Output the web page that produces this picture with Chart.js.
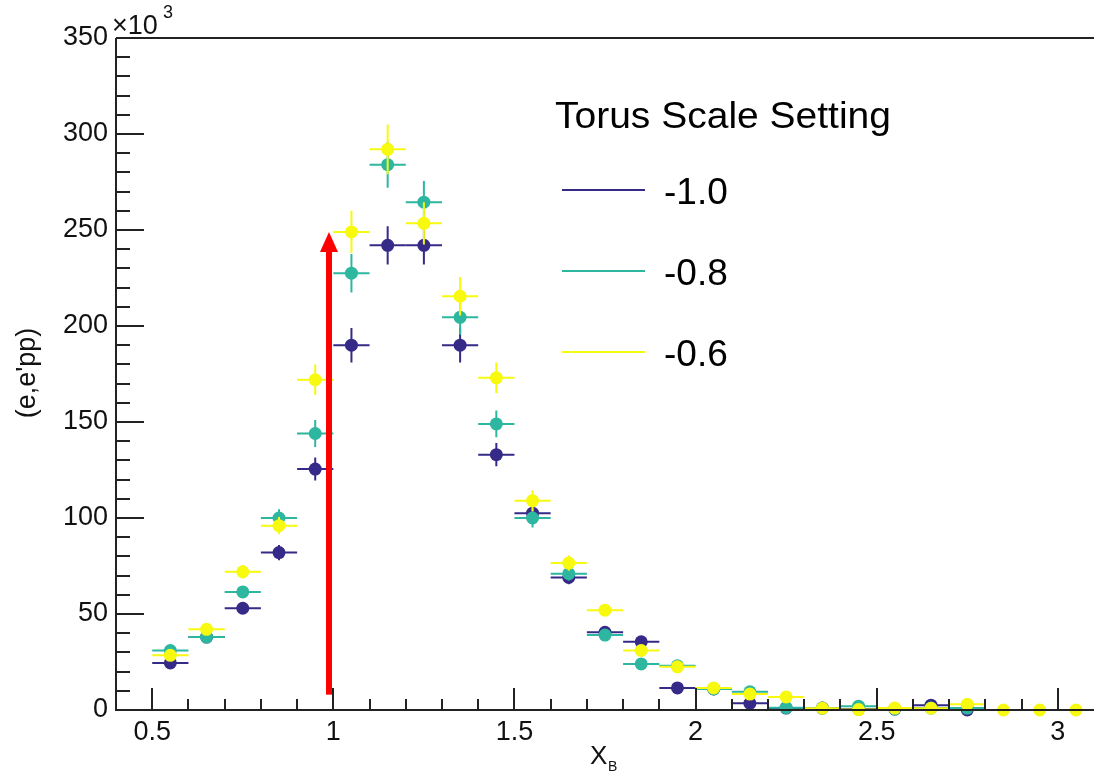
<!DOCTYPE html>
<html>
<head>
<meta charset="utf-8">
<title>(e,e'pp) vs X_B</title>
<script src="https://cdn.jsdelivr.net/npm/chart.js@4/dist/chart.umd.min.js"></script>
<style>
  html, body { margin: 0; padding: 0; background: #fff; }
  #wrap { width: 1094px; height: 773px; }
</style>
</head>
<body>
<div id="wrap"><canvas id="myChart" width="1094" height="773"></canvas></div>
<script>
// bin centres of X_B (bin width 0.1)
const binCenters = [0.55, 0.65, 0.75, 0.85, 0.95, 1.05, 1.15, 1.25, 1.35, 1.45, 1.55, 1.65, 1.75,
                    1.85, 1.95, 2.05, 2.15, 2.25, 2.35, 2.45, 2.55, 2.65, 2.75, 2.85, 2.95, 3.05];
const binHalfWidth = 0.05;

// counts in units of 10^3, one array per torus scale setting
const torus10 = [24.5, 38, 53, 82, 125.5, 190, 242, 242, 190, 133, 102.5, 69, 40.5,
                 35.5, 11.5, 11, 3.5, 1, 1, 0.5, 0.5, 2.5, 0];
const torus10Err = [1.5, 2, 3, 4, 6, 9, 10, 10, 9, 6, 5, 3.5, 2,
                    2, 1, 1, 0.5, 0.5, 0.5, 0.5, 0.5, 0.5, 0.5];

const torus08 = [31, 38, 61.5, 100, 144, 227.5, 284, 264.5, 204.5, 149, 100, 71, 39,
                 24, 23, 11, 9.5, 1.2, 1, 2, 0.5, 1, 1];
const torus08Err = [1.5, 2, 3, 4.5, 7, 10, 12, 11, 9, 7, 5, 3.5, 2,
                    1.5, 1.5, 1, 1, 0.5, 0.5, 0.5, 0.5, 0.5, 0.5];

const torus06 = [28.5, 42, 72, 96, 172, 249, 292, 253.5, 215.5, 173, 109, 76.5, 52,
                 31, 22.5, 11.5, 8.3, 6.8, 0.9, 0.2, 1, 0.9, 3, 0, 0, 0];
const torus06Err = [1.5, 2, 3.5, 4.5, 8, 11, 13, 11, 10, 8, 5.5, 4, 3,
                    2, 1.5, 1, 1, 1, 0.5, 0.5, 0.5, 0.5, 1, 0.3, 0.3, 0.3];

const seriesLabels = ['-1.0', '-0.8', '-0.6'];
const xTickLabels = [0.5, 1, 1.5, 2, 2.5, 3];
const yTickLabels = [0, 50, 100, 150, 200, 250, 300, 350];

// red marker arrow at X_B ~ 1
const arrowMark = { x: 0.988, from: 8, to: 249 };

const colors = ['#352a87', '#2db6a0', '#f7f90e'];
const FONT = '"Liberation Sans", Arial, Helvetica, sans-serif';

function toPoints(vals, errs) {
    return vals.map((v, i) => ({ x: binCenters[i], y: v, err: errs[i] }));
}

// text squeezed/stretched horizontally to a given width
function fitText(ctx, text, x, y, width) {
    const w = ctx.measureText(text).width;
    ctx.save();
    ctx.translate(x, y);
    ctx.scale(width / w, 1);
    ctx.fillText(text, 0, 0);
    ctx.restore();
}

// error bars are drawn right before each dataset's markers
const errorBars = {
    id: 'errorBars',
    beforeDatasetDraw(chart, args) {
        const ds = chart.data.datasets[args.index];
        const xs = chart.scales.x, ys = chart.scales.y;
        const ctx = chart.ctx;
        ctx.save();
        ctx.strokeStyle = ds.pointBackgroundColor;
        ctx.lineWidth = 2;
        ds.data.forEach(p => {
            const px = xs.getPixelForValue(p.x);
            const py = ys.getPixelForValue(p.y);
            ctx.beginPath();
            ctx.moveTo(xs.getPixelForValue(p.x - binHalfWidth), py);
            ctx.lineTo(xs.getPixelForValue(p.x + binHalfWidth), py);
            ctx.moveTo(px, ys.getPixelForValue(Math.max(0, p.y - p.err)));
            ctx.lineTo(px, ys.getPixelForValue(p.y + p.err));
            ctx.stroke();
        });
        ctx.restore();
    }
};

// frame, inward ticks, axis titles, legend and the arrow
const decorations = {
    id: 'decorations',
    afterDatasetsDraw(chart) {
        const ctx = chart.ctx;
        const xs = chart.scales.x, ys = chart.scales.y;
        const a = chart.chartArea;

        // arrow
        const ax = xs.getPixelForValue(arrowMark.x);
        const ay0 = ys.getPixelForValue(arrowMark.from);
        const ay1 = ys.getPixelForValue(arrowMark.to);
        ctx.save();
        ctx.fillStyle = '#ff0000';
        ctx.fillRect(ax - 3, ay1 + 18, 6, ay0 - ay1 - 18);
        ctx.beginPath();
        ctx.moveTo(ax, ay1);
        ctx.lineTo(ax - 9, ay1 + 20);
        ctx.lineTo(ax + 9, ay1 + 20);
        ctx.closePath();
        ctx.fill();
        ctx.restore();

        // axes
        ctx.save();
        ctx.strokeStyle = '#222';
        ctx.lineWidth = 2;
        ctx.beginPath();
        ctx.moveTo(a.left, a.top);
        ctx.lineTo(a.right, a.top);
        ctx.moveTo(a.left, a.top);
        ctx.lineTo(a.left, a.bottom);
        ctx.lineTo(a.right, a.bottom);
        // y ticks, every 10 with longer ones every 50
        for (let v = 10; v < 350; v += 10) {
            const py = Math.round(ys.getPixelForValue(v));
            const len = v % 50 === 0 ? 28 : 14;
            ctx.moveTo(a.left, py);
            ctx.lineTo(a.left + len, py);
        }
        // x ticks, every 0.1 with longer ones every 0.5
        for (let k = 5; k <= 30; k++) {
            const px = Math.round(xs.getPixelForValue(k / 10));
            const len = k % 5 === 0 ? 22 : 11;
            ctx.moveTo(px, a.bottom);
            ctx.lineTo(px, a.bottom - len);
        }
        ctx.stroke();
        ctx.restore();

        // axis titles and exponent
        ctx.save();
        ctx.fillStyle = '#111';
        ctx.textBaseline = 'alphabetic';
        ctx.font = '26px ' + FONT;
        ctx.fillText('X', 590, 764);
        ctx.font = '14px ' + FONT;
        ctx.fillText('B', 608, 771);

        ctx.font = '27px ' + FONT;
        ctx.fillText('\u00d710', 112, 34);
        ctx.font = '18px ' + FONT;
        ctx.fillText('3', 163, 18);

        ctx.translate(35, 373);
        ctx.rotate(-Math.PI / 2);
        ctx.textAlign = 'center';
        ctx.font = '27px ' + FONT;
        ctx.fillText("(e,e'pp)", 0, 0);
        ctx.restore();

        // legend
        ctx.save();
        ctx.fillStyle = '#000';
        ctx.font = '36px ' + FONT;
        fitText(ctx, 'Torus Scale Setting', 555, 128, 336);
        ctx.font = '37px ' + FONT;
        const rows = [190, 271, 352];
        chart.data.datasets.forEach((ds, i) => {
            ctx.strokeStyle = ds.pointBackgroundColor;
            ctx.lineWidth = 2;
            ctx.beginPath();
            ctx.moveTo(562, rows[i]);
            ctx.lineTo(645, rows[i]);
            ctx.stroke();
            ctx.fillText(ds.label, 664, rows[i] + 14);
        });
        ctx.restore();
    }
};

const ctx = document.getElementById('myChart').getContext('2d');
const myChart = new Chart(ctx, {
    type: 'scatter',
    data: {
        datasets: [
            { label: seriesLabels[0], data: toPoints(torus10, torus10Err), order: 3 },
            { label: seriesLabels[1], data: toPoints(torus08, torus08Err), order: 2 },
            { label: seriesLabels[2], data: toPoints(torus06, torus06Err), order: 1 }
        ].map((ds, i) => Object.assign(ds, {
            pointBackgroundColor: colors[i],
            pointBorderWidth: 0,
            pointRadius: 6.5,
            showLine: false,
            clip: false
        }))
    },
    options: {
        responsive: false,
        animation: false,
        devicePixelRatio: 1,
        layout: { autoPadding: false, padding: { top: 38, right: 0, bottom: 0, left: 0 } },
        plugins: { legend: { display: false }, tooltip: { enabled: false } },
        scales: {
            x: {
                type: 'linear',
                min: 0.4,
                max: 3.1,
                grid: { display: false, drawTicks: false },
                border: { display: false },
                afterBuildTicks: s => { s.ticks = xTickLabels.map(v => ({ value: v })); },
                afterFit: s => { s.height = 63; s.paddingLeft = 0; s.paddingRight = 0; },
                ticks: {
                    padding: 6,
                    color: '#111',
                    font: { family: FONT, size: 27 },
                    maxRotation: 0,
                    callback: v => String(v)
                }
            },
            y: {
                type: 'linear',
                min: 0,
                max: 350,
                grid: { display: false, drawTicks: false },
                border: { display: false },
                afterBuildTicks: s => { s.ticks = yTickLabels.map(v => ({ value: v })); },
                afterFit: s => { s.width = 116; s.paddingTop = 0; s.paddingBottom = 0; },
                ticks: {
                    padding: 8,
                    color: '#111',
                    font: { family: FONT, size: 27 },
                    callback: v => String(v)
                }
            }
        }
    },
    plugins: [errorBars, decorations]
});
</script>
</body>
</html>
